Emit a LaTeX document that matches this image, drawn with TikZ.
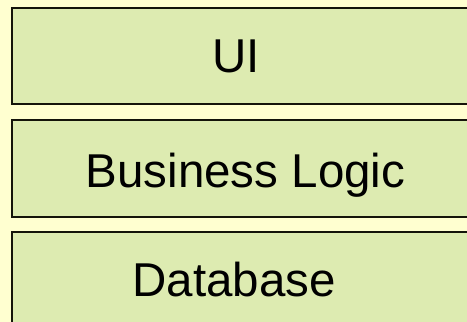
\documentclass[tikz,border=0pt]{standalone}
\usepackage{fontspec}
\setmainfont{Liberation Sans}
\definecolor{bgyellow}{RGB}{255,255,208}
\definecolor{boxgreen}{RGB}{221,235,177}
\definecolor{boxline}{RGB}{20,20,10}
\begin{document}
\begin{tikzpicture}[x=1pt,y=1pt,
  layerbox/.style={draw=boxline, fill=boxgreen, line width=2.4pt, rectangle, inner sep=0pt, anchor=north west},
  layertext/.style={font=\fontsize{47.5}{57}\selectfont, text=black, inner sep=0pt, anchor=base}]
\useasboundingbox (0,0) rectangle (467,322);
\fill[bgyellow] (0,0) rectangle (467,322);
\clip (0,0) rectangle (467,322);
\node[layerbox, minimum width=480pt, minimum height=96pt] (uibox) at (11,315) {};
\node[layerbox, minimum width=480pt, minimum height=97pt] (blbox) at (11,203) {};
\node[layerbox, minimum width=480pt, minimum height=120pt] (dbbox) at (11,91) {};
\node[layertext] (ui) at (236,249) {UI};
\node[layertext] (bl) at (245.5,134) {Business Logic};
\node[layertext] (db) at (234,25) {Database};
\end{tikzpicture}
\end{document}
